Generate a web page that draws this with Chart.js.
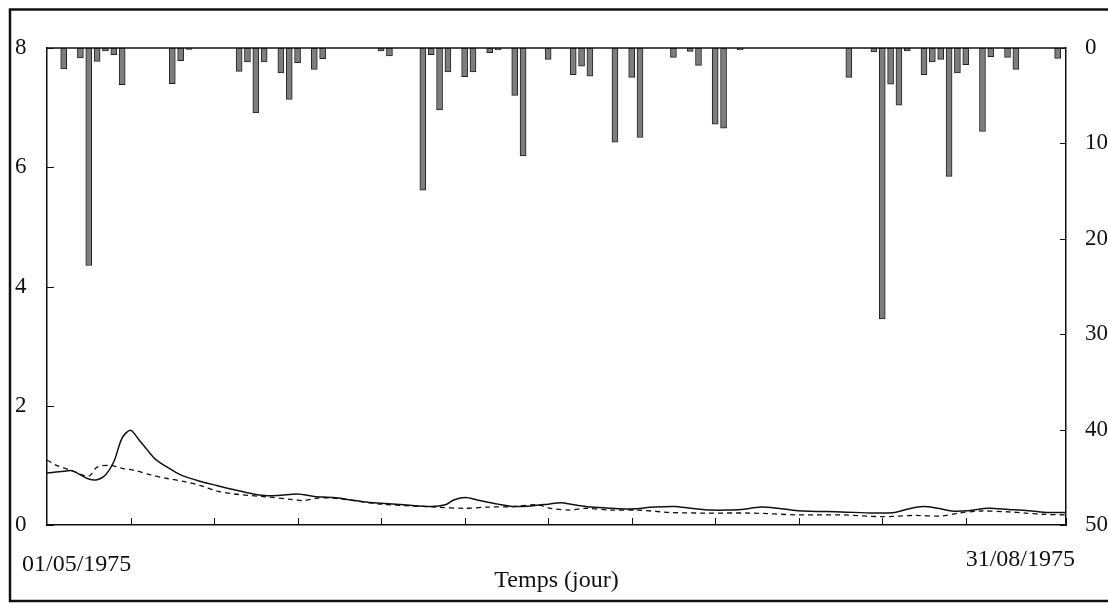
<!DOCTYPE html>
<html>
<head>
<meta charset="utf-8">
<script src="https://cdn.jsdelivr.net/npm/chart.js@4"></script>
<style>
  html, body { margin: 0; background: #fff; }
  canvas { display: block; }
</style>
</head>
<body>
<canvas id="chart" width="1108" height="603"></canvas>
<script>
// rainfall (mm), day index from 01/05/1975
const rainDays = [2, 4, 5, 6, 7, 8, 9, 15, 16, 17, 23, 24, 25, 26, 28, 29, 30, 32, 33, 40, 41,
  45, 46, 47, 48, 50, 51, 53, 54, 56, 57, 60, 63, 64, 65, 68, 70, 71, 75, 77, 78, 80, 81, 83,
  96, 99, 100, 101, 102, 103, 105, 106, 107, 108, 109, 110, 112, 113, 115, 116, 121];
const rainMm = [2.2, 1.05, 22.8, 1.4, 0.3, 0.7, 3.85, 3.75, 1.33, 0.15, 2.45, 1.47, 6.8, 1.47, 2.6, 5.4, 1.54, 2.24, 1.12, 0.3, 0.84,
  14.9, 0.7, 6.5, 2.52, 3.0, 2.52, 0.5, 0.2, 4.97, 11.3, 1.19, 2.8, 1.9, 2.94, 9.87, 3.08, 9.38, 0.98, 0.35, 1.82, 7.98, 8.4, 0.2,
  3.08, 0.42, 28.4, 3.78, 6.0, 0.3, 2.8, 1.45, 1.19, 13.45, 2.6, 1.75, 8.75, 0.9, 0.98, 2.24, 1.1];

// observed discharge (solid)
const obsDays = [0, 2, 3, 4, 5, 6, 7, 8, 9, 10, 11, 12, 13, 14.4, 16, 18.4, 20.4, 22.4, 24.7, 26.4, 28, 30, 32, 34.3,
  36.4, 38.4, 40, 42.7, 46, 47.7, 48.7, 50.1, 51.5, 54, 56, 58, 60, 61.5, 63.1, 65.1, 67.5, 69.9, 72.7, 75.1, 77.1,
  79.5, 81.5, 83.1, 85.5, 87.5, 89.9, 95.1, 99.1, 101.5, 103.1, 104.9, 106.7, 108.3, 110.3, 112.7, 115.1, 117.5, 119.9, 122];
const obsFlow = [0.87, 0.9, 0.91, 0.84, 0.77, 0.76, 0.84, 1.06, 1.46, 1.59, 1.43, 1.26, 1.1, 0.97, 0.84, 0.73, 0.66, 0.59, 0.52, 0.49, 0.5, 0.52, 0.48, 0.46,
  0.42, 0.38, 0.365, 0.34, 0.31, 0.34, 0.42, 0.46, 0.42, 0.35, 0.31, 0.32, 0.35, 0.375, 0.34, 0.3, 0.28, 0.27, 0.3, 0.31, 0.28,
  0.25, 0.25, 0.26, 0.3, 0.28, 0.24, 0.22, 0.2, 0.21, 0.27, 0.31, 0.28, 0.235, 0.24, 0.28, 0.26, 0.24, 0.21, 0.21];

// simulated discharge (dashed)
const simDays = [0, 1, 3, 5, 6, 7.6, 9, 10.4, 12.4, 14.4, 16.4, 18.4, 20.4, 22.4, 26.4, 29.2, 30.7, 32.4, 34.3, 36.7, 40,
  46.7, 50, 52.7, 56, 58.7, 60.3, 62.7, 64.4, 67.5, 70.7, 74.7, 78.7, 84.3, 89.9, 95.1, 100, 103.9, 107.1, 109.1,
  111.9, 115.1, 117.1, 119.1, 122];
const simFlow = [1.09, 1.01, 0.91, 0.82, 0.97, 1.0, 0.95, 0.92, 0.84, 0.78, 0.73, 0.66, 0.57, 0.52, 0.47, 0.43, 0.41, 0.45, 0.45, 0.41, 0.35,
  0.3, 0.28, 0.3, 0.31, 0.34, 0.28, 0.25, 0.28, 0.25, 0.25, 0.21, 0.2, 0.2, 0.17, 0.17, 0.14, 0.16, 0.15, 0.2,
  0.235, 0.22, 0.2, 0.18, 0.17];

const startLabel = '01/05/1975';
const endLabel = '31/08/1975';
const xTitle = 'Temps (jour)';

const ink = '#111';
const serif = '"Liberation Serif", "DejaVu Serif", serif';

const pairs = (xs, ys) => xs.map((x, i) => ({ x, y: ys[i] }));

const frame = {
  id: 'frame',
  afterDraw(chart) {
    const { ctx, chartArea: a, scales } = chart;
    const line = (x1, y1, x2, y2) => { ctx.beginPath(); ctx.moveTo(x1, y1); ctx.lineTo(x2, y2); ctx.stroke(); };
    ctx.save();
    ctx.strokeStyle = ink;
    // outer box
    ctx.lineWidth = 2.5;
    ctx.beginPath();
    ctx.moveTo(1200, 9.5); ctx.lineTo(10, 9.5); ctx.lineTo(10, 601); ctx.lineTo(1200, 601);
    ctx.stroke();
    // top of plot
    ctx.lineWidth = 1.5;
    line(a.left, a.top, a.right, a.top);
    // inward ticks
    ctx.lineWidth = 1;
    scales.x.ticks.forEach(t => {
      if (t.value <= 0) return;
      const px = Math.round(scales.x.getPixelForValue(t.value)) + 0.5;
      line(px, a.bottom, px, a.bottom - 7);
    });
    scales.y.ticks.forEach(t => {
      const py = Math.round(scales.y.getPixelForValue(t.value)) + 0.5;
      line(a.left, py, a.left + 7, py);
    });
    scales.y2.ticks.forEach(t => {
      const py = Math.round(scales.y2.getPixelForValue(t.value)) + 0.5;
      line(a.right, py, a.right - 6, py);
    });
    // dates under the ends of the time axis
    ctx.fillStyle = ink;
    ctx.font = '24px ' + serif;
    ctx.textBaseline = 'middle';
    ctx.textAlign = 'left';
    ctx.fillText(startLabel, a.left - 25, 565);
    ctx.textAlign = 'right';
    ctx.fillText(endLabel, a.right + 9, 560);
    ctx.restore();
  }
};

new Chart(document.getElementById('chart'), {
  type: 'bar',
  data: {
    datasets: [
      {
        type: 'line',
        data: pairs(obsDays, obsFlow),
        yAxisID: 'y',
        borderColor: ink,
        borderWidth: 1.5,
        pointRadius: 0,
        tension: 0.3,
        fill: false,
        order: 1
      },
      {
        type: 'line',
        data: pairs(simDays, simFlow),
        yAxisID: 'y',
        borderColor: ink,
        borderWidth: 1.3,
        borderDash: [5, 4],
        pointRadius: 0,
        tension: 0.3,
        fill: false,
        order: 2
      },
      {
        type: 'bar',
        data: pairs(rainDays, rainMm),
        yAxisID: 'y2',
        backgroundColor: '#7d7d7d',
        borderColor: '#222',
        borderWidth: 1,
        borderSkipped: false,
        barThickness: 6,
        order: 3
      }
    ]
  },
  options: {
    responsive: false,
    animation: false,
    layout: { padding: { left: 15, top: 48, right: 0, bottom: 0 } },
    plugins: { legend: { display: false }, tooltip: { enabled: false } },
    scales: {
      x: {
        type: 'linear',
        min: 0,
        max: 122,
        offset: false,
        ticks: { display: false, stepSize: 10 },
        grid: { display: false, drawTicks: false },
        border: { display: true, color: ink, width: 1.5 },
        title: { display: true, text: xTitle, color: ink, font: { family: serif, size: 24 }, padding: { top: 0, bottom: 8 } },
        afterFit: s => { s.height = 78; }
      },
      y: {
        position: 'left',
        min: 0,
        max: 8,
        ticks: { stepSize: 2, color: ink, font: { family: serif, size: 23 }, crossAlign: 'far' },
        grid: { display: false, drawTicks: false },
        border: { display: true, color: ink, width: 1.5 },
        afterFit: s => { s.width = 32; }
      },
      y2: {
        position: 'right',
        reverse: true,
        min: 0,
        max: 50,
        ticks: { stepSize: 10, color: ink, font: { family: serif, size: 23 }, padding: 19 },
        grid: { display: false, drawTicks: false },
        border: { display: true, color: ink, width: 1.5 },
        afterFit: s => { s.width = 42; }
      }
    }
  },
  plugins: [frame]
});
</script>
</body>
</html>
